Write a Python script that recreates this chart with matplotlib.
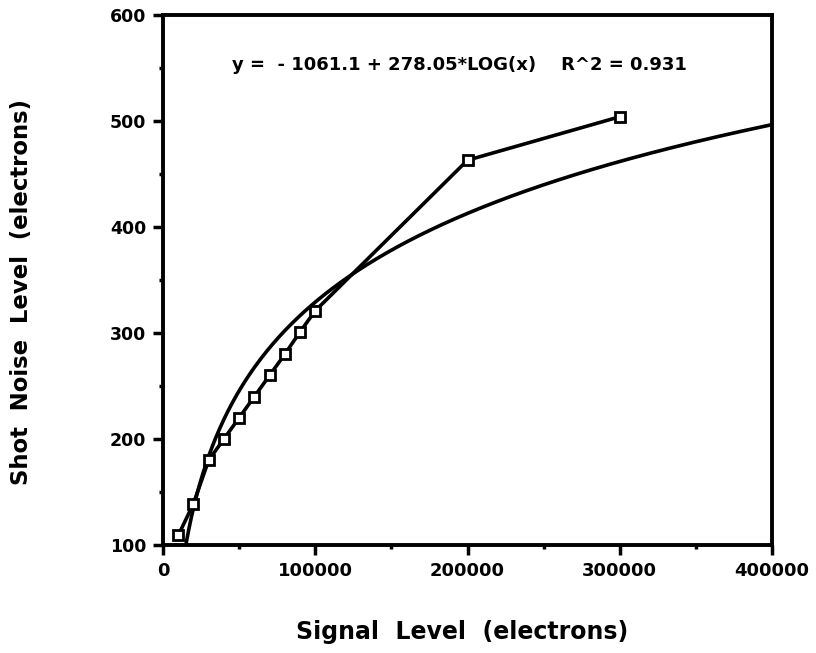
import numpy as np
import matplotlib
matplotlib.use("Agg")
import matplotlib.pyplot as plt
from matplotlib.ticker import MultipleLocator

# Data
signal = [10000, 20000, 30000, 40000, 50000, 60000, 70000, 80000, 90000, 100000, 200000, 300000]
noise = [109, 139, 180, 200, 220, 240, 260, 280, 301, 321, 463, 504]

# Fit coefficients shown on the chart
fit_a = -1061.1
fit_b = 278.05
fit_x = np.linspace(15000, 400000, 400)
fit_y = fit_a + fit_b * np.log10(fit_x)

plt.rcParams['font.family'] = ['DejaVu Sans']
plt.rcParams['font.weight'] = 'bold'

W, H = 816, 653
fig = plt.figure(figsize=(W/100, H/100), dpi=100)
ax = fig.add_axes([163/W, 1 - 545/H, (772-163)/W, (545-15)/H])

ax.plot(fit_x, fit_y, color='black', lw=2.6, solid_capstyle='butt', clip_on=True)
ax.plot(signal, noise, color='black', lw=2.6, marker='s', markersize=7,
        markerfacecolor='white', markeredgecolor='black', markeredgewidth=2.0)

ax.set_xlim(0, 400000)
ax.set_ylim(100, 600)
ax.xaxis.set_major_locator(MultipleLocator(100000))
ax.xaxis.set_minor_locator(MultipleLocator(50000))
ax.yaxis.set_major_locator(MultipleLocator(100))
ax.yaxis.set_minor_locator(MultipleLocator(50))
ax.tick_params(axis='both', which='major', direction='out', length=7, width=2.5, pad=5)
ax.tick_params(axis='x', which='major', labelsize=13)
ax.tick_params(axis='y', which='major', labelsize=12.5)
ax.tick_params(axis='both', which='minor', direction='out', length=3, width=2.5)
ax.tick_params(top=False, right=False)
for s in ax.spines.values():
    s.set_linewidth(2.8)
for lab in ax.get_xticklabels() + ax.get_yticklabels():
    lab.set_fontweight('bold')

ax.text((232-163)/609, (545-65)/530, "y =  - 1061.1 + 278.05*LOG(x)    R^2 = 0.931",
        transform=ax.transAxes, fontsize=13, fontweight='bold', ha='left', va='center')

fig.text(462/W, 1 - 632/H, "Signal  Level  (electrons)", fontsize=17, fontweight='bold',
         ha='center', va='center')
fig.text(22/W, 1 - 292/H, "Shot  Noise  Level  (electrons)", fontsize=16.4, fontweight='bold',
         ha='center', va='center', rotation=90)

fig.savefig("out.png", dpi=100, facecolor='white')
